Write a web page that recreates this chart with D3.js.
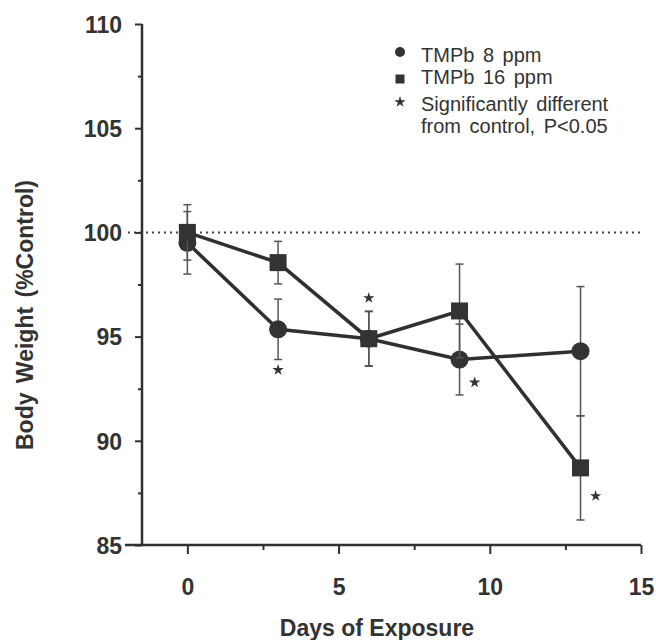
<!DOCTYPE html>
<html>
<head>
<meta charset="utf-8">
<script src="https://cdn.jsdelivr.net/npm/d3@7"></script>
<style>
  body { margin: 0; background: #fff; }
  svg { display: block; }
  text { font-family: "Liberation Sans", Arial, sans-serif; fill: #333; }
</style>
</head>
<body>
<svg id="chart" width="656" height="640"></svg>
<script>
(function () {
    'use strict';

    // data
    var days = [0, 3, 6, 9, 13];
    var mean8 = [99.5, 95.35, 94.9, 93.9, 94.3];
    var err8 = [1.5, 1.45, 1.3, 1.7, 3.1];
    var mean16 = [100, 98.55, 94.9, 96.23, 88.7];
    var err16 = [1.33, 1.02, 1.32, 2.25, 2.5];

    // significance markers (in data units)
    var sigX = [3, 6, 9.5, 13.5];
    var sigY = [93.4, 96.85, 92.8, 87.35];

    var xTicks = [0, 5, 10, 15];
    var xMinor = [2.5, 7.5, 12.5];
    var yTicks = [85, 90, 95, 100, 105, 110];
    var yMinor = [87.5, 92.5, 97.5, 102.5, 107.5];

    var legendLabels = ['TMPb 8 ppm', 'TMPb 16 ppm', 'Significantly different', 'from control, P<0.05'];

    var ink = '#303030';
    var svg = d3.select('#chart');

    var x = d3.scaleLinear().domain([-1.5, 15]).range([142, 641]);
    var y = d3.scaleLinear().domain([85, 110]).range([545, 24]);

    // dotted control line at 100%
    svg.append('line')
        .attr('x1', x.range()[0] - 14).attr('x2', x(15))
        .attr('y1', y(100)).attr('y2', y(100))
        .attr('stroke', '#444').attr('stroke-width', 2)
        .attr('stroke-dasharray', '2,4');

    // axes
    function styleAxis(g) {
        g.select('.domain').remove();
        g.selectAll('.tick line').attr('stroke', ink).attr('stroke-width', 2);
        g.selectAll('.tick text')
            .style('font-size', '23px').style('font-weight', 'bold')
            .attr('fill', '#333');
    }

    var gx = svg.append('g').attr('transform', 'translate(0,' + y(85) + ')');
    gx.call(d3.axisBottom(x).tickValues(xTicks).tickSize(9).tickPadding(25).tickFormat(d3.format('d')))
        .call(styleAxis);
    svg.append('g').attr('transform', 'translate(0,' + y(85) + ')')
        .call(d3.axisBottom(x).tickValues(xMinor).tickSize(5).tickFormat(''))
        .call(styleAxis);

    var gy = svg.append('g').attr('transform', 'translate(' + x(-1.5) + ',0)');
    gy.call(d3.axisLeft(y).tickValues(yTicks).tickSize(7).tickPadding(13).tickFormat(d3.format('d')))
        .call(styleAxis);
    gy.selectAll('.tick text').attr('dy', '0.36em');
    svg.append('g').attr('transform', 'translate(' + x(-1.5) + ',0)')
        .call(d3.axisLeft(y).tickValues(yMinor).tickSize(4).tickFormat(''))
        .call(styleAxis);

    // axis lines
    svg.append('line')
        .attr('x1', x(-1.5)).attr('x2', x(-1.5))
        .attr('y1', y(110)).attr('y2', y(85))
        .attr('stroke', ink).attr('stroke-width', 2.5);
    svg.append('line')
        .attr('x1', x(-1.5) - 17).attr('x2', x(15))
        .attr('y1', y(85)).attr('y2', y(85))
        .attr('stroke', ink).attr('stroke-width', 2.5);

    // axis titles
    svg.append('text')
        .attr('x', 377).attr('y', 636)
        .attr('text-anchor', 'middle')
        .style('font-size', '23px').style('font-weight', 'bold')
        .text('Days of Exposure');
    svg.append('text')
        .attr('transform', 'translate(33,315) rotate(-90)')
        .attr('text-anchor', 'middle')
        .style('font-size', '23px').style('font-weight', 'bold')
        .style('word-spacing', '3px')
        .text('Body Weight (%Control)');

    var line = d3.line()
        .x(function (d) { return x(d[0]); })
        .y(function (d) { return y(d[1]); });

    function drawSeries(means, errs, shape) {
        var pts = days.map(function (d, i) { return [d, means[i], errs[i]]; });
        var g = svg.append('g');

        // error bars
        var eb = g.selectAll('g.err').data(pts).enter().append('g');
        eb.append('line')
            .attr('x1', function (d) { return x(d[0]); })
            .attr('x2', function (d) { return x(d[0]); })
            .attr('y1', function (d) { return y(d[1] + d[2]); })
            .attr('y2', function (d) { return y(d[1] - d[2]); })
            .attr('stroke', '#555').attr('stroke-width', 1.5);
        [1, -1].forEach(function (s) {
            eb.append('line')
                .attr('x1', function (d) { return x(d[0]) - 4; })
                .attr('x2', function (d) { return x(d[0]) + 4; })
                .attr('y1', function (d) { return y(d[1] + s * d[2]); })
                .attr('y2', function (d) { return y(d[1] + s * d[2]); })
                .attr('stroke', '#555').attr('stroke-width', 1.5);
        });

        g.append('path')
            .datum(pts)
            .attr('d', line)
            .attr('fill', 'none')
            .attr('stroke', ink)
            .attr('stroke-width', 3.5);

        if (shape === 'circle') {
            g.selectAll('circle').data(pts).enter().append('circle')
                .attr('cx', function (d) { return x(d[0]); })
                .attr('cy', function (d) { return y(d[1]); })
                .attr('r', 9)
                .attr('fill', '#333');
        } else {
            g.selectAll('rect').data(pts).enter().append('rect')
                .attr('x', function (d) { return x(d[0]) - 8.5; })
                .attr('y', function (d) { return y(d[1]) - 8.5; })
                .attr('width', 17).attr('height', 17)
                .attr('fill', '#333');
        }
    }

    drawSeries(mean8, err8, 'circle');
    drawSeries(mean16, err16, 'square');

    // significance stars
    var star = d3.symbol().type(d3.symbolStar).size(40);
    svg.selectAll('path.sig').data(sigX).enter().append('path')
        .attr('class', 'sig')
        .attr('d', star)
        .attr('transform', function (d, i) { return 'translate(' + x(d) + ',' + y(sigY[i]) + ')'; })
        .attr('fill', '#333');

    // legend
    var lg = svg.append('g');
    var baselines = [62, 84, 111, 133];
    lg.selectAll('text').data(legendLabels).enter().append('text')
        .attr('x', 421)
        .attr('y', function (d, i) { return baselines[i]; })
        .style('font-size', '20px')
        .style('word-spacing', '3px')
        .text(function (d) { return d; });
    lg.append('circle').attr('cx', 400).attr('cy', 52).attr('r', 5).attr('fill', '#333');
    lg.append('rect').attr('x', 395.5).attr('y', 74.5).attr('width', 9).attr('height', 9).attr('fill', '#333');
    lg.append('path').attr('d', star).attr('transform', 'translate(400,102)').attr('fill', '#333');
}());
</script>
</body>
</html>
